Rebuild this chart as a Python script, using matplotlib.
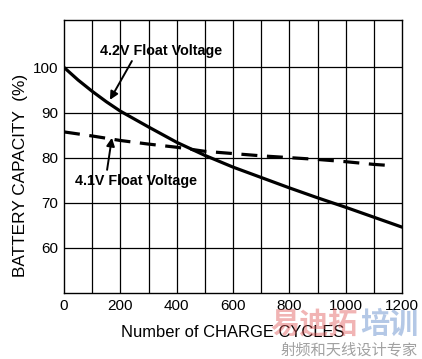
import matplotlib
matplotlib.use("Agg")
import matplotlib.pyplot as plt

plt.rcParams['font.family'] = ['Liberation Sans', 'DejaVu Sans']

cycles = [0, 50, 100, 150, 200, 300, 400, 500, 600, 700, 800, 900, 1000, 1100, 1200]
cap_42 = [100, 97.2, 94.7, 92.4, 90.3, 86.8, 83.4, 80.5, 77.9, 75.6, 73.3, 71.1, 69.0, 66.8, 64.6]
cycles_41 = [0, 100, 200, 300, 400, 500, 600, 700, 800, 900, 1000, 1100, 1170]
cap_41 = [85.7, 84.8, 83.8, 83.0, 82.3, 81.4, 80.9, 80.4, 80.0, 79.6, 79.1, 78.5, 78.2]
xticks = [0, 200, 400, 600, 800, 1000, 1200]
yticks = [60, 70, 80, 90, 100]

fig = plt.figure(figsize=(4.22, 3.59), dpi=100)
ax = fig.add_axes([64/422, 1-293/359, 338/422, 273/359])

ax.set_xlim(0, 1200)
ax.set_ylim(50, 110.5)
for xv in range(100, 1200, 100):
    ax.axvline(xv, color='black', lw=0.9, zorder=1)
for yv in yticks:
    ax.axhline(yv, color='black', lw=0.9, zorder=1)

ax.plot(cycles, cap_42, color='black', lw=2.3, zorder=3)
ax.plot(cycles_41, cap_41, color='black', lw=2.3, linestyle=(0, (5, 3)), zorder=3)

ax.set_xticks(xticks)
ax.set_yticks(yticks)
ax.tick_params(length=0, labelsize=11, pad=4)
for s in ax.spines.values():
    s.set_linewidth(1.0)

ax.set_xlabel('Number of CHARGE CYCLES', fontsize=11.9, labelpad=9)
ax.set_ylabel('BATTERY CAPACITY  (%)', fontsize=12.4, va='center')
ax.yaxis.set_label_coords(-0.130, 0.432)

ax.text(344, 103.6, '4.2V Float Voltage', fontsize=10.3, fontweight='bold',
        ha='center', va='center')
ax.annotate('', xy=(163, 92.8), xytext=(241, 101.4),
            arrowprops=dict(arrowstyle='-|>', color='black', lw=1.4,
                            mutation_scale=12, shrinkA=0, shrinkB=0))
ax.text(256, 74.8, '4.1V Float Voltage', fontsize=10.3, fontweight='bold',
        ha='center', va='center')
ax.annotate('', xy=(170, 84.4), xytext=(153, 77.3),
            arrowprops=dict(arrowstyle='-|>', color='black', lw=1.4,
                            mutation_scale=12, shrinkA=0, shrinkB=0))

# watermark
cjk = ['Noto Sans CJK SC', 'DejaVu Sans']
fig.text(270/422, 1-324/359, '易迪拓', family=cjk, fontsize=21, fontweight='bold',
         color='#e05a5a', alpha=0.45, ha='left', va='center')
fig.text(418/422, 1-324/359, '培训', family=cjk, fontsize=21, fontweight='bold',
         color='#5a86c8', alpha=0.45, ha='right', va='center')
fig.text(418/422, 1-350/359, '射频和天线设计专家', family=cjk, fontsize=11,
         color='#8a8a8a', alpha=0.8, ha='right', va='center')

fig.savefig('out.png', dpi=100)
